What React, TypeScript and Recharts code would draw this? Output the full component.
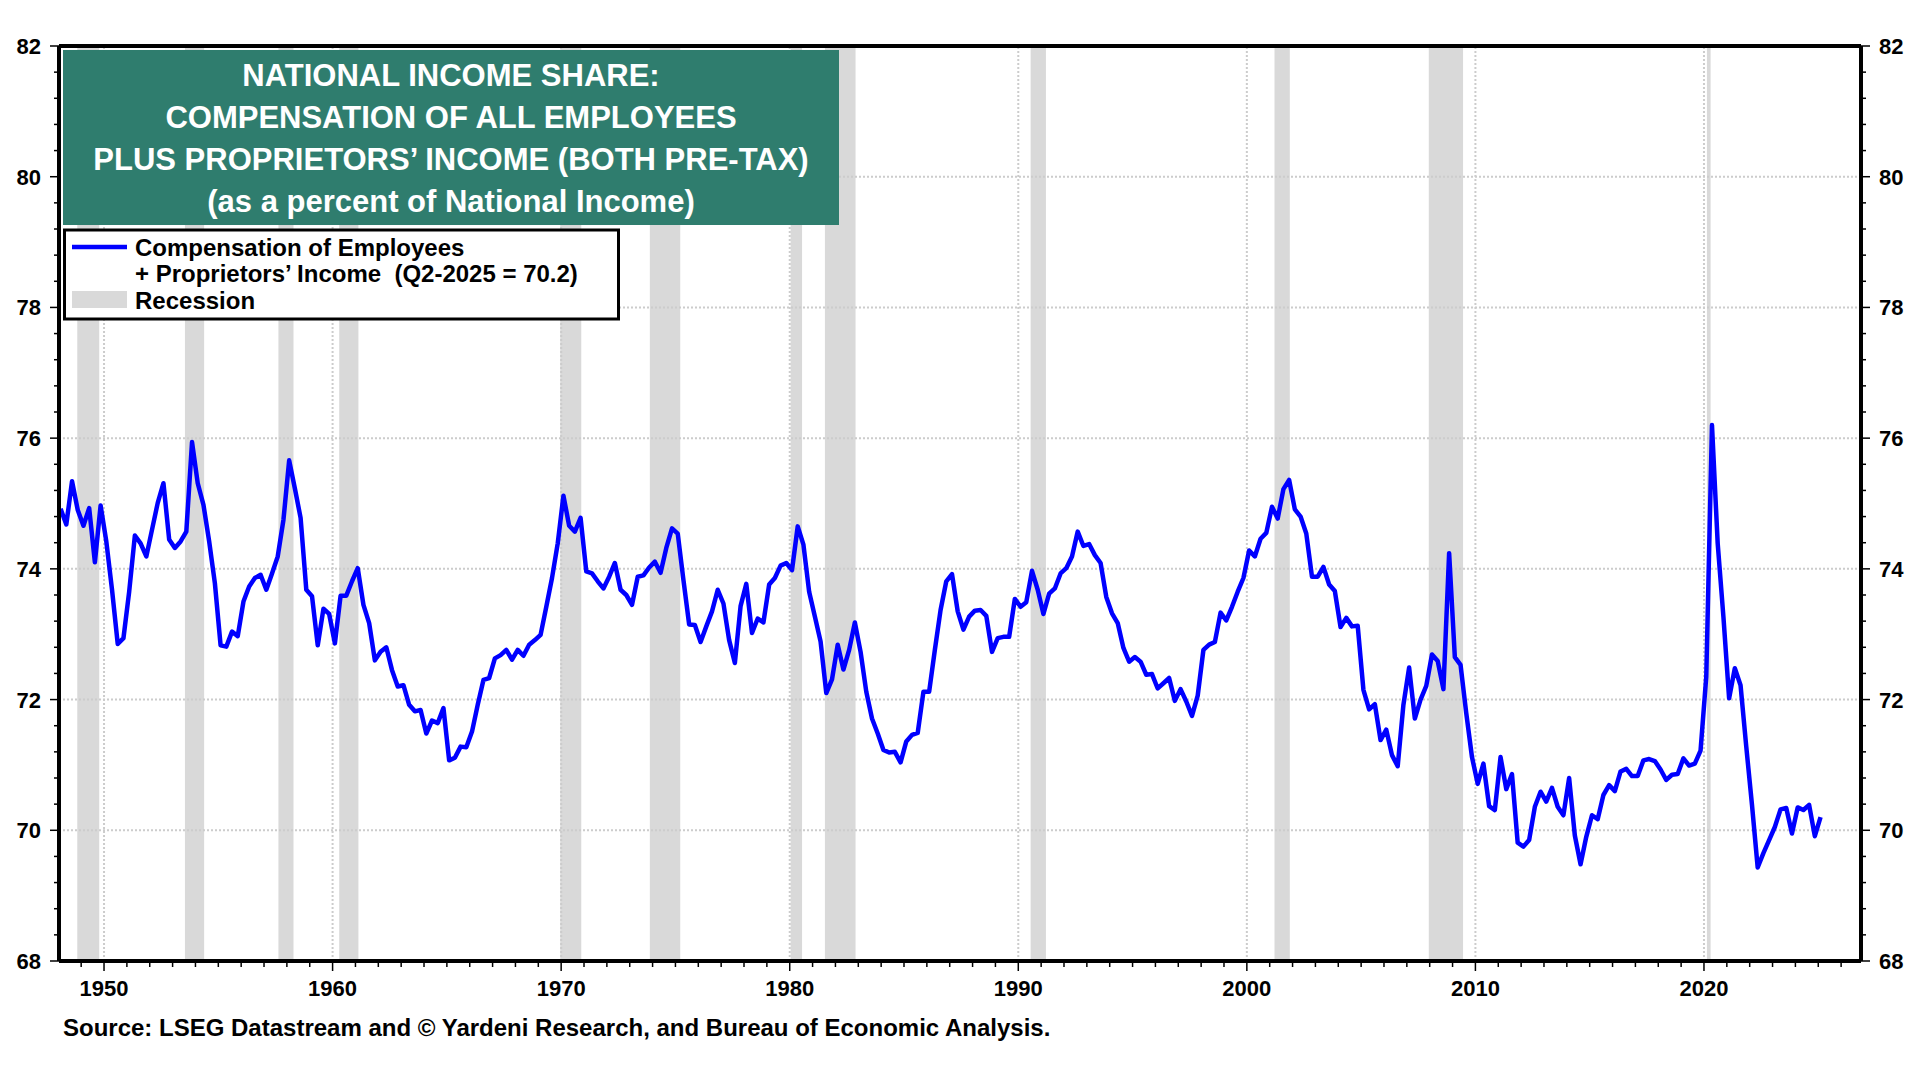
import { LineChart, Line, XAxis, YAxis, ReferenceArea, ReferenceLine } from 'recharts'

// quarterly share (%), first quarter is 1948 Q1
const START_YEAR = 1948
const q1940s = [74.92, 74.68, 75.34, 74.9, 74.66, 74.93, 74.1, 74.97]
const q1950s = [
  74.42, 73.68, 72.85, 72.94, 73.65, 74.51, 74.39, 74.19, 74.6, 75.01, 75.31, 74.45,
  74.32, 74.42, 74.57, 75.94, 75.31, 74.98, 74.42, 73.78, 72.83, 72.81, 73.04, 72.97,
  73.5, 73.73, 73.86, 73.91, 73.68, 73.93, 74.19, 74.75, 75.66, 75.23, 74.78, 73.68,
  73.58, 72.83, 73.39, 73.31,
]
const q1960s = [
  72.86, 73.59, 73.59, 73.81, 74.01, 73.45, 73.17, 72.6, 72.73, 72.8, 72.45, 72.2,
  72.22, 71.92, 71.82, 71.84, 71.48, 71.68, 71.64, 71.87, 71.07, 71.11, 71.28, 71.27,
  71.51, 71.92, 72.3, 72.33, 72.63, 72.68, 72.76, 72.61, 72.76, 72.67, 72.84, 72.91,
  72.99, 73.42, 73.86, 74.39,
]
const q1970s = [
  75.12, 74.66, 74.57, 74.78, 73.96, 73.93, 73.81, 73.7, 73.88, 74.09, 73.68, 73.6,
  73.45, 73.88, 73.9, 74.02, 74.11, 73.94, 74.32, 74.62, 74.54, 73.83, 73.15, 73.14,
  72.88, 73.12, 73.35, 73.68, 73.47, 72.91, 72.56, 73.43, 73.77, 73.02, 73.24, 73.18,
  73.76, 73.86, 74.05, 74.09,
]
const q1980s = [
  73.98, 74.65, 74.37, 73.65, 73.27, 72.89, 72.1, 72.31, 72.84, 72.46, 72.76, 73.18,
  72.73, 72.12, 71.71, 71.48, 71.23, 71.19, 71.2, 71.04, 71.36, 71.46, 71.49, 72.12,
  72.12, 72.76, 73.37, 73.81, 73.92, 73.35, 73.07, 73.27, 73.36, 73.37, 73.28, 72.73,
  72.94, 72.96, 72.96, 73.54,
]
const q1990s = [
  73.42, 73.49, 73.97, 73.68, 73.31, 73.62, 73.7, 73.93, 74.01, 74.19, 74.57, 74.35,
  74.38, 74.21, 74.09, 73.57, 73.32, 73.17, 72.79, 72.58, 72.65, 72.58, 72.38, 72.39,
  72.17, 72.25, 72.33, 71.98, 72.16, 71.97, 71.75, 72.06, 72.76, 72.84, 72.88, 73.33,
  73.21, 73.42, 73.65, 73.86,
]
const q2000s = [
  74.28, 74.19, 74.46, 74.55, 74.95, 74.77, 75.22, 75.36, 74.91, 74.8, 74.54, 73.88,
  73.88, 74.03, 73.76, 73.66, 73.11, 73.25, 73.12, 73.13, 72.15, 71.85, 71.93, 71.38,
  71.54, 71.15, 70.98, 71.92, 72.49, 71.71, 72.0, 72.21, 72.69, 72.59, 72.16, 74.24,
  72.65, 72.53, 71.79, 71.12,
]
const q2010s = [
  70.71, 71.02, 70.37, 70.31, 71.12, 70.63, 70.86, 69.81, 69.75, 69.85, 70.36, 70.59,
  70.44, 70.65, 70.36, 70.23, 70.8, 69.92, 69.48, 69.9, 70.23, 70.17, 70.54, 70.69,
  70.6, 70.9, 70.94, 70.83, 70.83, 71.07, 71.09, 71.06, 70.93, 70.77, 70.85, 70.86,
  71.1, 70.99, 71.02, 71.22,
]
const q2020s = [
  72.35, 76.2, 74.39, 73.27, 72.02, 72.48, 72.22, 71.28, 70.39, 69.43, 69.65, 69.85,
  70.05, 70.32, 70.34, 69.95, 70.35, 70.31, 70.39, 69.91, 70.2,
]

// NBER recessions, decimal years
const recessions = [
  [1948.83, 1949.79], [1953.54, 1954.38], [1957.63, 1958.29], [1960.29, 1961.13],
  [1969.96, 1970.88], [1973.88, 1975.21], [1980.04, 1980.54], [1981.54, 1982.88],
  [1990.54, 1991.21], [2001.21, 2001.88], [2007.96, 2009.46], [2020.13, 2020.29],
]

const decadeLabels = [1950, 1960, 1970, 1980, 1990, 2000, 2010, 2020]
const yLabels = [68, 70, 72, 74, 76, 78, 80, 82]
const yMinorTicks = [
  68, 68.4, 68.8, 69.2, 69.6, 70, 70.4, 70.8, 71.2, 71.6, 72, 72.4, 72.8, 73.2, 73.6,
  74, 74.4, 74.8, 75.2, 75.6, 76, 76.4, 76.8, 77.2, 77.6, 78, 78.4, 78.8, 79.2, 79.6,
  80, 80.4, 80.8, 81.2, 81.6, 82,
]
const gridY = [70, 72, 74, 76, 78, 80]

const titleLines = [
  'NATIONAL INCOME SHARE:',
  'COMPENSATION OF ALL EMPLOYEES',
  'PLUS PROPRIETORS\u2019 INCOME (BOTH PRE-TAX)',
  '(as a percent of National Income)',
]

const X_DOMAIN = [1948.03, 2026.87]
const FONT = '"Liberation Sans", Arial, Helvetica, sans-serif'

const yearTicks: number[] = []
for (let y = 1949; y <= 2026; y++) yearTicks.push(y)

const series = [...q1940s, ...q1950s, ...q1960s, ...q1970s, ...q1980s, ...q1990s, ...q2000s, ...q2010s, ...q2020s]
const data = series.map((v, i) => ({
  t: START_YEAR + i / 4 + 0.1,
  v,
}))

function LeftTick({ x, y, payload }: any) {
  const major = yLabels.includes(payload.value)
  return (
    <g>
      <line x1={x - (major ? 9 : 5)} x2={x} y1={y} y2={y} stroke="#000" strokeWidth={1.5} />
      {major && (
        <text x={x - 18} y={y + 8} textAnchor="end" fontSize={22} fontWeight="bold" fontFamily={FONT} fill="#000">
          {payload.value}
        </text>
      )}
    </g>
  )
}

function RightTick({ x, y, payload }: any) {
  const major = yLabels.includes(payload.value)
  return (
    <g>
      <line x1={x} x2={x + (major ? 9 : 5)} y1={y} y2={y} stroke="#000" strokeWidth={1.5} />
      {major && (
        <text x={x + 18} y={y + 8} textAnchor="start" fontSize={22} fontWeight="bold" fontFamily={FONT} fill="#000">
          {payload.value}
        </text>
      )}
    </g>
  )
}

function YearTick({ x, y, payload }: any) {
  const major = decadeLabels.includes(payload.value)
  return (
    <g>
      <line x1={x} x2={x} y1={y} y2={y + (major ? 10 : 6)} stroke="#000" strokeWidth={1.5} />
      {major && (
        <text x={x} y={y + 35} textAnchor="middle" fontSize={22} fontWeight="bold" fontFamily={FONT} fill="#000">
          {payload.value}
        </text>
      )}
    </g>
  )
}

function Overlay() {
  return (
    <svg width={1920} height={1080} style={{ position: 'absolute', left: 0, top: 0, pointerEvents: 'none' }}>
      <rect x={63} y={50} width={776} height={175} fill="#2f7d6e" />
      {titleLines.map((line, i) => (
        <text key={line} x={451} y={86 + i * 42} textAnchor="middle" fontSize={31} fontWeight="bold" fontFamily={FONT} fill="#fff">
          {line}
        </text>
      ))}
      <rect x={64.5} y={230} width={554} height={89} fill="#fff" stroke="#000" strokeWidth={3} />
      <line x1={72} x2={127} y1={247} y2={247} stroke="#0000ff" strokeWidth={4.5} />
      <text x={135} y={255.5} fontSize={24} fontWeight="bold" fontFamily={FONT} fill="#000">
        Compensation of Employees
      </text>
      <text x={135} y={281.5} fontSize={24} fontWeight="bold" fontFamily={FONT} fill="#000" style={{ whiteSpace: 'pre' }}>
        {'+ Proprietors\u2019 Income  (Q2-2025 = 70.2)'}
      </text>
      <rect x={72} y={291} width={55} height={17} fill="#d9d9d9" />
      <text x={135} y={308.5} fontSize={24} fontWeight="bold" fontFamily={FONT} fill="#000">
        Recession
      </text>
      <text x={63} y={1036} fontSize={24} fontWeight="bold" fontFamily={FONT} fill="#000">
        Source: LSEG Datastream and © Yardeni Research, and Bureau of Economic Analysis.
      </text>
    </svg>
  )
}

export default function App() {
  return (
    <div style={{ position: 'absolute', left: 0, top: 0, width: 1920, height: 1080, background: '#fff' }}>
      <LineChart width={1920} height={1080} data={data} margin={{ top: 46, right: 0, bottom: 0, left: 0 }}>
        <XAxis
          dataKey="t"
          type="number"
          domain={X_DOMAIN}
          ticks={yearTicks}
          interval={0}
          height={119}
          tickSize={0}
          tickMargin={0}
          tickLine={false}
          tick={<YearTick />}
          axisLine={{ stroke: '#000', strokeWidth: 4 }}
          allowDataOverflow
        />
        <YAxis
          yAxisId="left"
          domain={[68, 82]}
          ticks={yMinorTicks}
          interval={0}
          width={59}
          tickSize={0}
          tickMargin={0}
          tickLine={false}
          tick={<LeftTick />}
          axisLine={{ stroke: '#000', strokeWidth: 4 }}
          allowDataOverflow
        />
        <YAxis
          yAxisId="right"
          orientation="right"
          domain={[68, 82]}
          ticks={yMinorTicks}
          interval={0}
          width={59}
          tickSize={0}
          tickMargin={0}
          tickLine={false}
          tick={<RightTick />}
          axisLine={{ stroke: '#000', strokeWidth: 4 }}
          allowDataOverflow
        />
        {recessions.map(([a, b]) => (
          <ReferenceArea key={a} yAxisId="left" x1={a} x2={b} y1={68} y2={82} fill="#d9d9d9" fillOpacity={1} stroke="none" />
        ))}
        {gridY.map((g) => (
          <ReferenceLine key={g} yAxisId="left" y={g} stroke="#cccccc" strokeWidth={2} strokeDasharray="2 2" />
        ))}
        {decadeLabels.map((d) => (
          <ReferenceLine key={d} yAxisId="left" x={d} stroke="#cccccc" strokeWidth={2} strokeDasharray="2 2" />
        ))}
        <ReferenceLine yAxisId="left" y={82} stroke="#000" strokeWidth={4} />
        <Line
          yAxisId="left"
          dataKey="v"
          type="linear"
          stroke="#0000ff"
          strokeWidth={4.5}
          strokeLinejoin="round"
          dot={false}
          activeDot={false}
          isAnimationActive={false}
        />
      </LineChart>
      <Overlay />
    </div>
  )
}
